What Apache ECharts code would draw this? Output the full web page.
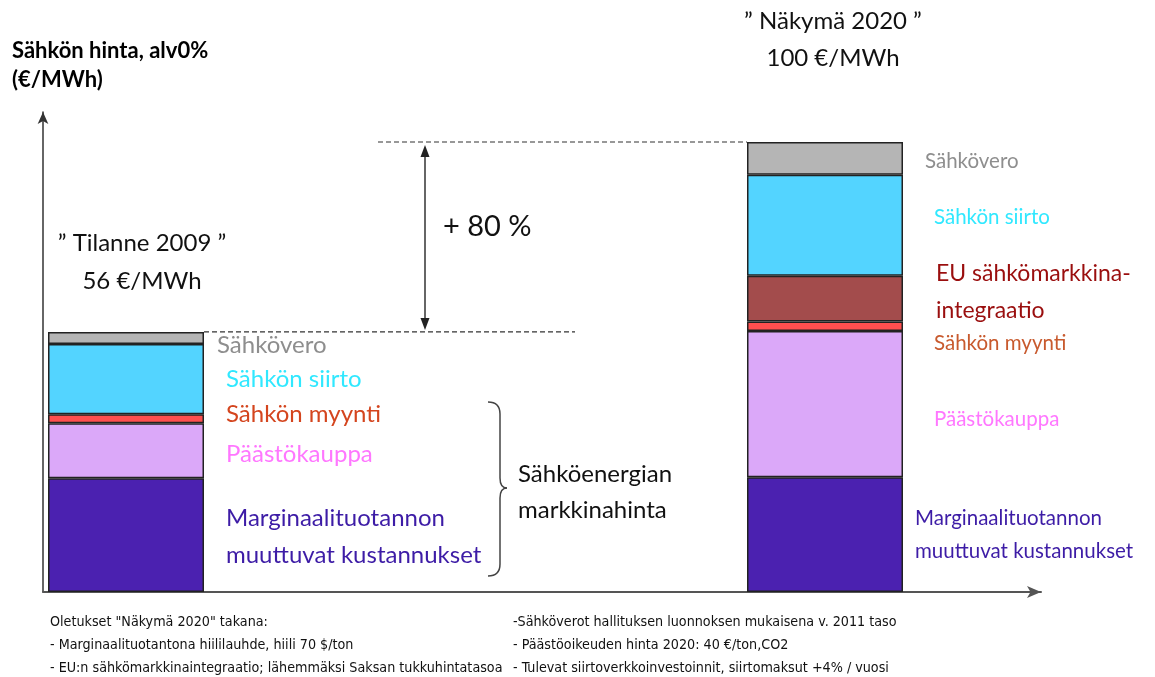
<!DOCTYPE html>
<html><head><meta charset="utf-8">
<script src="https://cdn.jsdelivr.net/npm/echarts/dist/echarts.min.js"></script>
<style>html,body{margin:0;padding:0;background:#fff}#c{width:1155px;height:677px}</style>
</head><body><div id="c"></div>
<script>
// ---- data (€/MWh) ----
const categories = ['Tilanne 2009', 'Näkymä 2020'];
const marginalCosts = [25.3, 25.5];
const emissionsTrading = [12.2, 32.5];
const retailSales = [2.0, 2.1];
const euIntegration = [null, 10.2];
const transmission = [15.6, 22.4];
const electricityTax = [2.7, 7.3];
const seriesNames = ['Marginaalituotannon\nmuuttuvat kustannukset', 'Päästökauppa', 'Sähkön myynti',
  'EU sähkömarkkina-\nintegraatio', 'Sähkön siirto', 'Sähkövero'];
const headlineTitles = ['” Tilanne 2009 ”', '” Näkymä 2020 ”'];
const headlinePrices = ['56 €/MWh', '100 €/MWh'];
const increaseText = '+ 80 %';
const braceText = ['Sähköenergian', 'markkinahinta'];
const axisTitle = ['Sähkön hinta, alv0%', '(€/MWh)'];
const notesLeft = ['Oletukset "Näkymä 2020" takana:', '- Marginaalituotantona hiililauhde, hiili 70 $/ton',
  '- EU:n sähkömarkkinaintegraatio; lähemmäksi Saksan tukkuhintatasoa'];
const notesRight = ['-Sähköverot hallituksen luonnoksen mukaisena v. 2011 taso', '- Päästöoikeuden hinta 2020: 40 €/ton,CO2',
  '- Tulevat siirtoverkkoinvestoinnit, siirtomaksut +4% / vuosi'];

// ---- styles ----
const FONT = 'Lato, "Open Sans", sans-serif';
const NOTE_FONT = '"Liberation Sans Narrow", "DejaVu Sans Condensed", Lato, sans-serif';
const barColors = ['#4B21B0', '#DBA8F9', '#FF4F4F', '#A34C4C', '#53D4FF', '#B5B5B5'];
const labelColors = ['#3D1CA6', '#FF77FF', '#D4451E', '#9A0E0E', '#30E8FF', '#8E8E8E'];
// per series, per bar: [dx, dy, fontSize, lineHeight]
const labelLayout = [
  [[22, 2, 24, 37], [12, 0, 20.5, 33]],
  [[22, 4, 24, 28], [31, 15, 20.5, 26]],
  [[22, -4, 24, 28], [31, 17, 20.5, 26]],
  [[0, 0, 23, 37], [33, -7, 23, 37]],
  [[22, 0, 24, 28], [31, -8, 20.5, 26]],
  [[13, 7, 24, 28], [22, 3, 20.5, 26]]
];
const myyntiColor2 = '#C85A2E';

const valueSets = [marginalCosts, emissionsTrading, retailSales, euIntegration, transmission, electricityTax];
const BAR_W = 156;

const chart = echarts.init(document.getElementById('c'));

const series = valueSets.map((vals, s) => ({
  type: 'bar', name: seriesNames[s], stack: 'price', xAxisIndex: 0, yAxisIndex: 0,
  barWidth: BAR_W, clip: false,
  itemStyle: { color: barColors[s], borderColor: '#222', borderWidth: 1.5 },
  data: vals.map((v, i) => {
    const L = labelLayout[s][i];
    return {
      value: v == null ? '-' : v,
      label: {
        show: v != null, position: 'right', distance: 0, offset: [L[0], L[1]],
        formatter: seriesNames[s], fontFamily: FONT, fontSize: L[2], lineHeight: L[3],
        color: (s === 2 && i === 1) ? myyntiColor2 : labelColors[s]
      }
    };
  })
}));

chart.setOption({
  animation: false,
  grid: [
    { left: 126, right: 330, top: 142, bottom: 85 },
    { left: 43, right: 114, top: 112, bottom: 85 }
  ],
  xAxis: [
    { type: 'category', data: categories, gridIndex: 0, show: false, boundaryGap: false },
    { type: 'value', gridIndex: 1, min: 0, max: 1, axisLabel: { show: false }, axisTick: { show: false }, splitLine: { show: false },
      axisLine: { show: true, symbol: ['none', 'arrow'], symbolSize: [9, 14], lineStyle: { color: '#555', width: 2 } } }
  ],
  yAxis: [
    { type: 'value', gridIndex: 0, min: 0, max: 100, show: false },
    { type: 'value', gridIndex: 1, min: 0, max: 1, axisLabel: { show: false }, axisTick: { show: false }, splitLine: { show: false },
      axisLine: { show: true, symbol: ['none', 'arrow'], symbolSize: [8, 12], lineStyle: { color: '#333', width: 1.5 } } }
  ],
  series
});

// ---- annotations positioned from the library's scales ----
const totals = categories.map((_, i) => valueSets.reduce((a, arr) => a + (arr[i] || 0), 0));
const top1 = chart.convertToPixel({ seriesIndex: 0 }, [0, totals[0]]);
const top2 = chart.convertToPixel({ seriesIndex: 0 }, [1, totals[1]]);
const bar1Right = top1[0] + BAR_W / 2;
const bar2Left = top2[0] - BAR_W / 2;
const arrowX = 425;

function txt(text, x, y, font, opts) {
  return { type: 'text', style: Object.assign({ text, x, y, font, fill: '#111',
    textAlign: 'left', textVerticalAlign: 'middle' }, opts || {}) };
}
const F = (sz, w) => (w ? w + ' ' : '') + sz + 'px ' + FONT;
const dash = { stroke: '#333', lineWidth: 1.2, lineDash: [5, 3] };
const braceStyle = { stroke: '#444', lineWidth: 1.5, fill: null };
const graphics = [
  txt(axisTitle[0], 12, 51, F(22, 'bold'), { fill: '#000' }),
  txt(axisTitle[1], 12, 80, F(22, 'bold'), { fill: '#000' }),
  txt(headlineTitles[0], 142, 243, F(24), { textAlign: 'center' }),
  txt(headlinePrices[0], 142, 281, F(24), { textAlign: 'center' }),
  txt(headlineTitles[1], 833, 21, F(24), { textAlign: 'center' }),
  txt(headlinePrices[1], 833, 58, F(24), { textAlign: 'center' }),
  txt(increaseText, 443, 227, F(29)),
  txt(braceText[0], 518, 474, F(24)),
  txt(braceText[1], 518, 510, F(24)),
  { type: 'line', shape: { x1: 378, y1: top2[1], x2: bar2Left, y2: top2[1] }, style: dash },
  { type: 'line', shape: { x1: bar1Right, y1: top1[1], x2: 575, y2: top1[1] }, style: dash },
  { type: 'line', shape: { x1: arrowX, y1: top2[1] + 8, x2: arrowX, y2: top1[1] - 8 }, style: { stroke: '#333', lineWidth: 1.5 } },
  { type: 'polygon', shape: { points: [[arrowX, top2[1] + 3], [arrowX - 4.5, top2[1] + 15], [arrowX + 4.5, top2[1] + 15]] }, style: { fill: '#222' } },
  { type: 'polygon', shape: { points: [[arrowX, top1[1] - 2], [arrowX - 4.5, top1[1] - 14], [arrowX + 4.5, top1[1] - 14]] }, style: { fill: '#222' } },
  // curly brace
  { type: 'bezierCurve', shape: { x1: 488, y1: 402, cpx1: 500, cpy1: 402, x2: 500, y2: 414 }, style: braceStyle },
  { type: 'line', shape: { x1: 500, y1: 414, x2: 500, y2: 478 }, style: braceStyle },
  { type: 'bezierCurve', shape: { x1: 500, y1: 478, cpx1: 500, cpy1: 488, x2: 507, y2: 488 }, style: braceStyle },
  { type: 'bezierCurve', shape: { x1: 507, y1: 488, cpx1: 500, cpy1: 488, x2: 500, y2: 498 }, style: braceStyle },
  { type: 'line', shape: { x1: 500, y1: 498, x2: 500, y2: 564 }, style: braceStyle },
  { type: 'bezierCurve', shape: { x1: 500, y1: 564, cpx1: 500, cpy1: 576, x2: 488, y2: 576 }, style: braceStyle }
];
notesLeft.forEach((t, k) => graphics.push(txt(t, 50, 622 + 23 * k, '14.2px ' + NOTE_FONT)));
notesRight.forEach((t, k) => graphics.push(txt(t, 513, 622 + 23 * k, '14.2px ' + NOTE_FONT)));
chart.setOption({ graphic: graphics });
</script>
</body></html>
